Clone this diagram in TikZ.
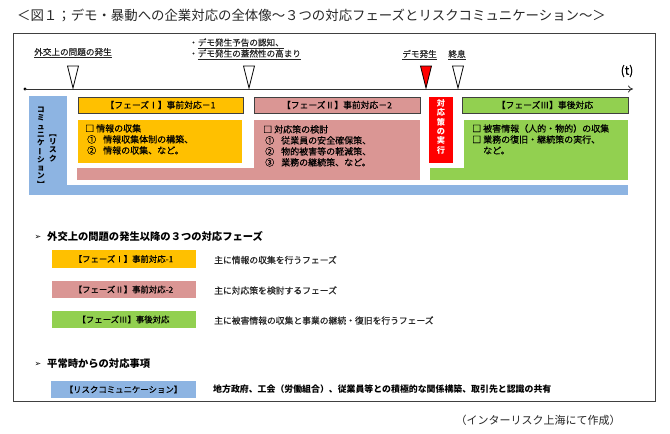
\documentclass[tikz,border=0pt]{standalone}
\usepackage{fontspec}
\usepackage{graphicx}
\setmainfont{Noto Sans CJK JP}[UprightFeatures={FakeBold=0.3}]
\newfontfamily\thinfont{Noto Sans CJK JP}
\newfontfamily\dingfont{DejaVu Sans}
\usetikzlibrary{arrows.meta}
\definecolor{cYel}{HTML}{FFC000}
\definecolor{cPink}{HTML}{DA9694}
\definecolor{cGreen}{HTML}{92D050}
\definecolor{cBlue}{HTML}{8DB4E2}
\definecolor{cRed}{HTML}{FF0000}
\definecolor{cFrame}{HTML}{404040}
\newcommand{\fsz}[2]{\fontsize{#1}{#2}\selectfont}
\newcommand{\vbar}{\rotatebox[origin=c]{90}{ー}}
\begin{document}
\begin{tikzpicture}[x=1pt,y=-1pt,
  txt/.style={inner sep=0pt, font=\fsz{9}{11}, text=black},
  lbl/.style={inner sep=0pt, font=\fsz{8.6}{11}, text=black!85},
  hdr/.style={draw=cFrame, line width=0.8pt, inner sep=0pt, minimum height=16pt, font=\fsz{8.8}{10}, text=black},
  legbox/.style={inner sep=0pt, minimum width=144pt, minimum height=17.5pt, font=\fsz{8.4}{10}, text=black},
  desc/.style={inner sep=0pt, anchor=west, font=\fsz{8.8}{10}, text=black!85},
  heading/.style={inner sep=0pt, anchor=west, font=\fsz{10.3}{12}\bfseries, text=black},
  vcol/.style={inner sep=0pt, align=center, font=\fsz{7.6}{8.3}\bfseries, text=black},
  trimark/.style={draw=black, line width=0.8pt}
]
\useasboundingbox (0,0) rectangle (670,434);
\fill[white] (0,0) rectangle (670,434);

% title
\node[inner sep=0pt, anchor=west, font=\thinfont\fsz{13.4}{15}, text=black!85] (title) at (17,15)
  {＜図１；デモ・暴動への企業対応の全体像～３つの対応フェーズとリスクコミュニケーション～＞};

% frame
\draw[cFrame, line width=0.9pt] (13,33) rectangle (655,401);

% timeline
\coordinate (t0) at (25,89);
\coordinate (t1) at (633,89);
\fill[black] (t0) circle (1.6);
\draw[black!80, line width=0.8pt, -{To[length=5pt,width=7pt]}] (t0) -- (t1);
\node[inner sep=0pt, font=\fsz{12}{14}] (tlabel) at (627,71) {(t)};

% triangles
\draw[trimark, fill=white] (67.5,66) -- (78.5,66) -- (73,88) -- cycle;
\draw[trimark, fill=white] (243.5,66) -- (254.5,66) -- (249,88) -- cycle;
\draw[trimark, fill=cRed] (420.5,66) -- (431.5,66) -- (426,88) -- cycle;
\draw[trimark, fill=white] (452.5,66) -- (463.5,66) -- (458,88) -- cycle;

% top labels
\node[lbl] (L1) at (73,53) {\underline{外交上の問題の発生}};
\node[lbl, anchor=west, align=left] (L2) at (189,49) {・\underline{デモ発生予告の認知、}\\・\underline{デモ発生の蓋然性の高まり}};
\node[lbl] (L3) at (419.5,55) {\underline{デモ発生}};
\node[lbl] (L4) at (457,55) {\underline{終息}};

% blue L shape (risk communication)
\fill[cBlue] (29,96) rectangle (67,195);
\fill[cBlue] (29,185) rectangle (628,195);
\node[vcol] (bv1) at (41,147) {コ\\ミ\\ュ\\ニ\\ケ\\\vbar\\シ\\ョ\\ン\\︼};
\node[vcol] (bv2) at (53,148) {︻\\リ\\ス\\ク};

% phase I
\node[hdr, fill=cYel, minimum width=165pt] (h1) at (160.5,105) {【フェーズⅠ】事前対応－1};
\fill[cYel] (78,120) rectangle (242,163);
\node[txt, anchor=north west, align=left] (c1) at (85,124)
  {□\hspace{2pt}情報の収集\\\hspace*{2pt}①\hspace{7pt}情報収集体制の構築、\\\hspace*{2pt}②\hspace{7pt}情報の収集、など。};

% phase II
\node[hdr, fill=cPink, minimum width=166pt] (h2) at (337,105) {【フェーズⅡ】事前対応－2};
\fill[cPink] (77,168) rectangle (420,180);
\fill[cPink] (254,120) rectangle (420,180);
\node[txt, anchor=north west, align=left] (c2) at (263,125)
  {□\hspace{2pt}対応策の検討\\\hspace*{2pt}①\hspace{7pt}従業員の安全確保策、\\\hspace*{2pt}②\hspace{7pt}物的被害等の軽減策、\\\hspace*{2pt}③\hspace{7pt}業務の継続策、など。};

% execution
\fill[cRed] (429,97) rectangle (453,163);
\node[inner sep=0pt, anchor=north, align=center, font=\fsz{8.2}{9.4}\bfseries, text=white] (rv) at (441,99) {対\\応\\策\\の\\実\\行};

% phase III
\node[hdr, fill=cGreen, minimum width=166pt] (h3) at (545,105) {【フェーズⅢ】事後対応};
\fill[cGreen] (430,168) rectangle (628,180);
\fill[cGreen] (464,120) rectangle (628,180);
\node[txt, anchor=north west, align=left] (c3) at (472,124)
  {□\hspace{2pt}被害情報（人的・物的）の収集\\□\hspace{2pt}業務の復旧・継続策の実行、\\\hspace*{11pt}など。};

% legend: phases
\node[inner sep=0pt, font=\dingfont\fsz{8}{10}] (a1) at (38,237) {➢};
\node[heading] (hd1) at (47,237) {外交上の問題の発生以降の３つの対応フェーズ};
\node[legbox, fill=cYel] (g1) at (123.5,259) {【フェーズⅠ】事前対応-1};
\node[legbox, fill=cPink] (g2) at (123.5,289.5) {【フェーズⅡ】事前対応-2};
\node[legbox, fill=cGreen] (g3) at (123.5,319.5) {【フェーズⅢ】事後対応};
\node[desc] (d1) at (214,260) {主に情報の収集を行うフェーズ};
\node[desc] (d2) at (214,290.5) {主に対応策を検討するフェーズ};
\node[desc] (d3) at (214,320.5) {主に被害情報の収集と事業の継続・復旧を行うフェーズ};

% legend: normal time
\node[inner sep=0pt, font=\dingfont\fsz{8}{10}] (a2) at (38,364) {➢};
\node[heading] (hd2) at (47,364) {平常時からの対応事項};
\node[legbox, fill=cBlue, minimum width=145pt] (g4) at (123.5,389.5) {【リスクコミュニケーション】};
\node[desc, text=black, font=\fsz{8.9}{10}\bfseries] (d4) at (213,389.5) {地方政府、工会（労働組合）、従業員等との積極的な関係構築、取引先と認識の共有};

% source
\node[inner sep=0pt, font=\thinfont\fsz{11}{13}, text=black!85] (src) at (538,420) {（インターリスク上海にて作成）};
\end{tikzpicture}
\end{document}
